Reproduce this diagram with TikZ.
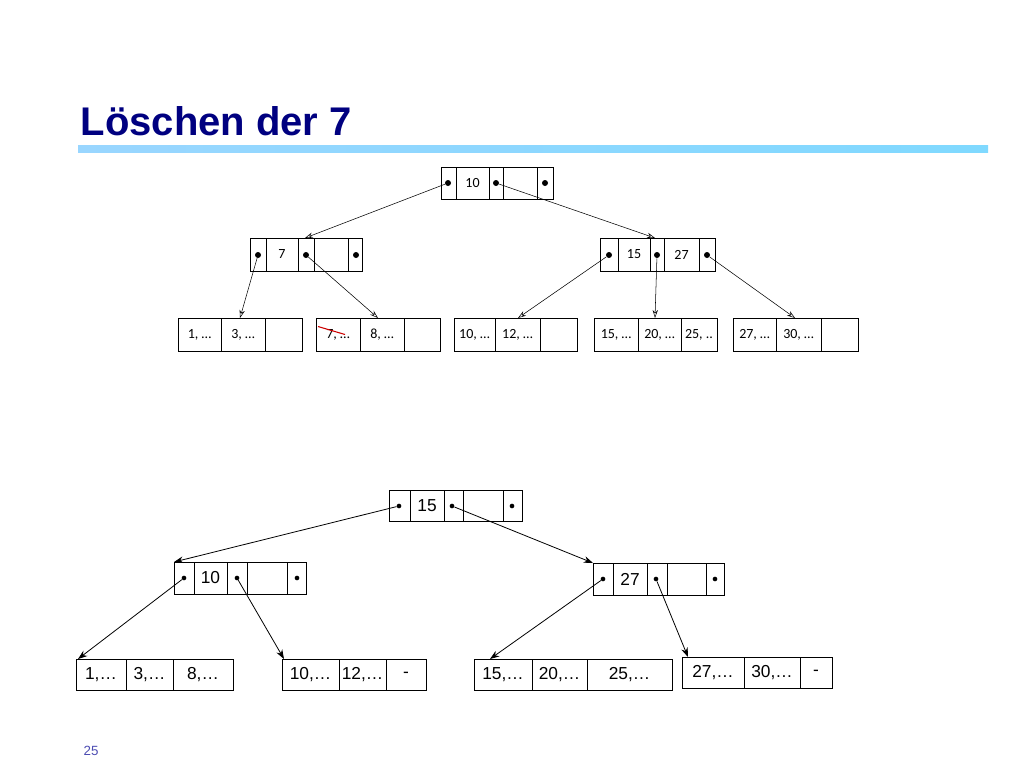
\documentclass[tikz,border=0pt]{standalone}
\usepackage{fontspec}
\setmainfont{Liberation Sans}
\newfontfamily\calibri{Carlito}
\usetikzlibrary{arrows.meta}
\newcommand\cell[6]{% name, x1, x2, y1, y2, text
  \node[CellStyle, minimum width={(#3-#2)*0.75pt}, minimum height={(#5-#4)*0.75pt}]
    (#1) at ({(#2+#3)/2},{(#4+#5)/2}) {#6};}
\begin{document}
\begin{tikzpicture}[x=0.75pt,y=-0.75pt]
  \tikzset{CellStyle/.style = {draw, thin, inner sep = 0pt, outer sep = 0pt}}
  \tikzset{DotStyle/.style = {circle, fill, inner sep = 0pt, minimum size = 4.5pt}}
  \tikzset{SmallDot/.style = {circle, fill, inner sep = 0pt, minimum size = 3.5pt}}
  \tikzset{EdgeTop/.style = {thin, -{Stealth[length=6pt,width=4pt,open]}}}
  \tikzset{EdgeBottom/.style = {semithick, -{Stealth[length=7pt,width=5pt]}}}
\useasboundingbox (0,0) rectangle (1024,768);

% title
\node[anchor=base west, text=blue!50!black, font=\bfseries\fontsize{30}{30}\selectfont] (title) at (76,135) {Löschen der 7};
\shade[left color=blue!40!cyan!40, right color=blue!30!cyan!50] (78,145) rectangle (988,152);
\node[anchor=base west, text=blue!40!gray, font=\fontsize{10}{10}\selectfont] (page) at (79,755) {25};

% ---------- before ----------
\begin{scope}[font=\calibri\fontsize{10.5}{10.5}\selectfont]
\cell{r0}{441}{456}{167}{199}{}
\cell{r1}{456}{489}{167}{199}{10}
\cell{r2}{489}{503}{167}{199}{}
\cell{r3}{503}{537}{167}{199}{}
\cell{r4}{537}{553}{167}{199}{}
\node[DotStyle] (rd0) at (448,183) {};
\node[DotStyle] (rd1) at (496,183) {};
\node[DotStyle] (rd2) at (545,183) {};

\cell{a0}{250}{266}{238}{271}{}
\cell{a1}{266}{298}{238}{271}{7}
\cell{a2}{298}{314}{238}{271}{}
\cell{a3}{314}{348}{238}{271}{}
\cell{a4}{348}{362}{238}{271}{}
\node[DotStyle] (ad0) at (258,255) {};
\node[DotStyle] (ad1) at (306,255) {};
\node[DotStyle] (ad2) at (356,255) {};

\cell{b0}{600}{618}{238}{271}{}
\cell{b1}{618}{650}{238}{271}{15}
\cell{b2}{650}{664}{238}{271}{}
\cell{b3}{664}{699}{238}{271}{27}
\cell{b4}{699}{715}{238}{271}{}
\node[DotStyle] (bd0) at (609,255) {};
\node[DotStyle] (bd1) at (657,255) {};
\node[DotStyle] (bd2) at (707,255) {};

\cell{la0}{178}{221}{318}{351}{1, \dots}
\cell{la1}{221}{265}{318}{351}{3, \dots}
\cell{la2}{265}{302}{318}{351}{}
\cell{lb0}{316}{360}{318}{351}{7, \dots}
\cell{lb1}{360}{404}{318}{351}{8, \dots}
\cell{lb2}{404}{440}{318}{351}{}
\cell{lc0}{454}{495}{318}{351}{10, \dots}
\cell{lc1}{495}{540}{318}{351}{12, \dots}
\cell{lc2}{540}{577}{318}{351}{}
\cell{ld0}{594}{638}{318}{351}{15, \dots}
\cell{ld1}{638}{681}{318}{351}{20, \dots}
\cell{ld2}{681}{717}{318}{351}{25, ..}
\cell{le0}{733}{776}{318}{351}{27, \dots}
\cell{le1}{776}{821}{318}{351}{30, \dots}
\cell{le2}{821}{858}{318}{351}{}
\end{scope}
\draw[red!80!black, thick] (lb0.west) ++(2,-8) -- ++(27,8);

\coordinate (ta) at (305,238);
\coordinate (tb) at (655,238);
\coordinate (tla) at (240,318);
\coordinate (tlb) at (378,318);
\coordinate (tlc) at (518,318);
\coordinate (tld) at (655,318);
\coordinate (tle) at (795,318);
\draw[EdgeTop] (rd0) -- (ta);
\draw[EdgeTop] (rd1) -- (tb);
\draw[EdgeTop] (ad0) -- (tla);
\draw[EdgeTop] (ad1) -- (tlb);
\draw[EdgeTop] (bd0) -- (tlc);
\draw[EdgeTop] (bd1) -- (tld);
\draw[EdgeTop] (bd2) -- (tle);

% ---------- after ----------
\begin{scope}[font=\fontsize{13}{13}\selectfont]
\cell{s0}{389}{410}{490}{521}{}
\cell{s1}{410}{444}{490}{521}{15}
\cell{s2}{444}{463}{490}{521}{}
\cell{s3}{463}{503}{490}{521}{}
\cell{s4}{503}{522}{490}{521}{}
\node[SmallDot] (sd0) at (399,506) {};
\node[SmallDot] (sd1) at (452,506) {};
\node[SmallDot] (sd2) at (512,506) {};

\cell{c0}{174}{194}{562}{594}{}
\cell{c1}{194}{227}{562}{594}{10}
\cell{c2}{227}{247}{562}{594}{}
\cell{c3}{247}{287}{562}{594}{}
\cell{c4}{287}{306}{562}{594}{}
\node[SmallDot] (cd0) at (184,578) {};
\node[SmallDot] (cd1) at (237,578) {};
\node[SmallDot] (cd2) at (297,578) {};

\cell{d0}{593}{613}{563}{595}{}
\cell{d1}{613}{647}{563}{595}{27}
\cell{d2}{647}{667}{563}{595}{}
\cell{d3}{667}{706}{563}{595}{}
\cell{d4}{706}{724}{563}{595}{}
\node[SmallDot] (dd0) at (603,579) {};
\node[SmallDot] (dd1) at (656,579) {};
\node[SmallDot] (dd2) at (715,579) {};

\cell{ma0}{76}{126}{659}{690}{1,\dots}
\cell{ma1}{126}{173}{659}{690}{3,\dots}
\cell{ma2}{173}{233}{659}{690}{8,\dots\hspace{12pt}}
\cell{mb0}{282}{339}{659}{690}{10,\dots}
\cell{mb1}{339}{386}{659}{690}{12,\dots}
\cell{mb2}{386}{426}{659}{690}{-}
\cell{mc0}{474}{532}{659}{690}{15,\dots}
\cell{mc1}{532}{587}{659}{690}{20,\dots}
\cell{mc2}{587}{672}{659}{690}{25,\dots\hspace{20pt}}
\cell{md0}{682}{744}{657}{688}{27,\dots}
\cell{md1}{744}{800}{657}{688}{30,\dots}
\cell{md2}{800}{832}{657}{688}{-}
\end{scope}

\coordinate (tc) at (174,562);
\coordinate (td) at (593,563);
\coordinate (tma) at (78,659);
\coordinate (tmb) at (284,659);
\coordinate (tmc) at (490,659);
\coordinate (tmd) at (688,657);
\draw[EdgeBottom] (sd0) -- (tc);
\draw[EdgeBottom] (sd1) -- (td);
\draw[EdgeBottom] (cd0) -- (tma);
\draw[EdgeBottom] (cd1) -- (tmb);
\draw[EdgeBottom] (dd0) -- (tmc);
\draw[EdgeBottom] (dd1) -- (tmd);
\end{tikzpicture}
\end{document}
